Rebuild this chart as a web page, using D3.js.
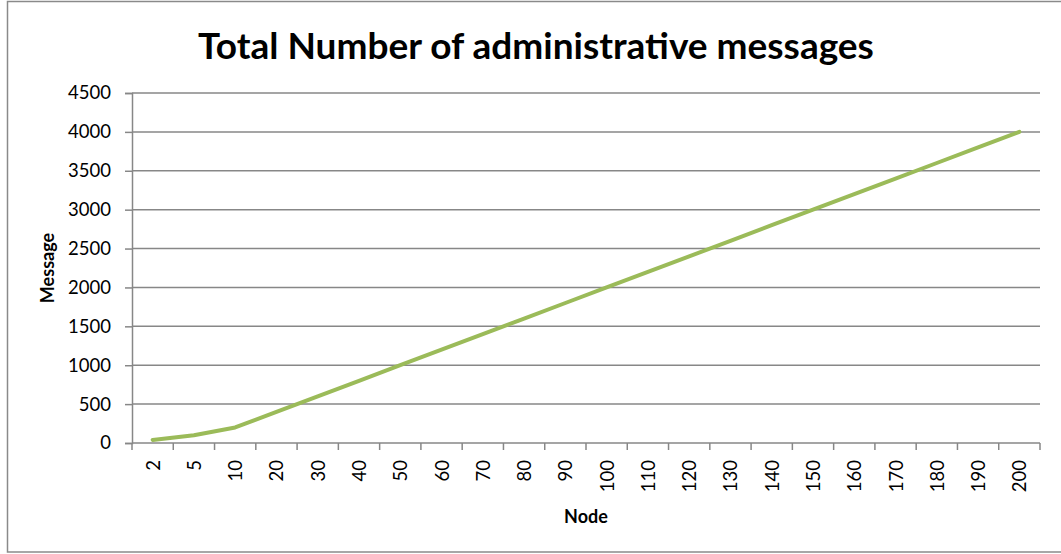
<html>
<script src="https://d3js.org/d3.v7.min.js"></script>
<style>
  body { margin: 0; background: #fff; }
  text { font-family: Lato, "Open Sans", sans-serif; }
</style>
<body>
<script>
  // chart data
  let nodes = ["2","5","10","20","30","40","50","60","70","80","90","100",
               "110","120","130","140","150","160","170","180","190","200"];
  let messages = [40,100,200,400,600,800,1000,1200,1400,1600,1800,2000,
                  2200,2400,2600,2800,3000,3200,3400,3600,3800,4000];
  let yTicks = [0,500,1000,1500,2000,2500,3000,3500,4000,4500];

  let width = 1061, height = 554;
  let margin = {top: 93, right: 21, bottom: 111, left: 132};
  let plotW = width - margin.left - margin.right;
  let plotH = height - margin.top - margin.bottom;

  let svg = d3.select("body").append("svg")
      .attr("width", width)
      .attr("height", height);

  // outer chart frame
  svg.append("rect")
      .attr("x", 7.5).attr("y", 1.5)
      .attr("width", 1060).attr("height", 550.5)
      .attr("fill", "none").attr("stroke", "#8a8a8a").attr("stroke-width", 1.5);

  let g = svg.append("g").attr("transform", `translate(${margin.left},${margin.top})`);

  let x = d3.scaleBand().domain(nodes).range([0, plotW]);
  let y = d3.scaleLinear().domain([0, 4500]).range([plotH, 0]);

  // horizontal gridlines + y axis
  let yAxis = d3.axisLeft(y).tickValues(yTicks).tickFormat(d3.format("d"))
      .tickSize(7).tickPadding(14);
  let yG = g.append("g").call(yAxis);
  yG.select(".domain").attr("stroke", "#878787").attr("stroke-width", 1.5);
  yG.selectAll(".tick line").attr("stroke", "#878787").attr("stroke-width", 1.5);
  yG.selectAll(".tick text").attr("font-size", 18.5).attr("fill", "#000")
      .attr("font-family", "Lato, sans-serif");

  g.append("g").selectAll("line")
      .data(yTicks.filter(d => d > 0))
      .join("line")
      .attr("x1", 0).attr("x2", plotW)
      .attr("y1", d => y(d)).attr("y2", d => y(d))
      .attr("stroke", "#878787").attr("stroke-width", 1.5);

  // x axis, ticks on band edges like Excel
  let xG = g.append("g").attr("transform", `translate(0,${plotH})`);
  xG.append("line").attr("x1", 0).attr("x2", plotW)
      .attr("stroke", "#878787").attr("stroke-width", 1.5);
  let edges = nodes.map(d => x(d)).concat([plotW]);
  xG.selectAll(".edge").data(edges).join("line")
      .attr("class", "edge")
      .attr("x1", d => d).attr("x2", d => d)
      .attr("y1", 0).attr("y2", 7)
      .attr("stroke", "#878787").attr("stroke-width", 1.5);
  xG.selectAll(".lbl").data(nodes).join("text")
      .attr("class", "lbl")
      .attr("transform", d => `translate(${x(d) + x.bandwidth() / 2 + 7},${17}) rotate(-90)`)
      .attr("text-anchor", "end")
      .attr("font-size", 18.5)
      .text(d => d);

  // the series line
  let line = d3.line()
      .x((d, i) => x(nodes[i]) + x.bandwidth() / 2)
      .y(d => y(d));
  g.append("path")
      .datum(messages)
      .attr("d", line)
      .attr("fill", "none")
      .attr("stroke", "#9bbb59")
      .attr("stroke-width", 4)
      .attr("stroke-linejoin", "round")
      .attr("stroke-linecap", "round");

  // titles
  svg.append("text")
      .attr("x", 536).attr("y", 59)
      .attr("text-anchor", "middle")
      .attr("font-size", 37).attr("font-weight", "bold")
      .text("Total Number of administrative messages");

  svg.append("text")
      .attr("x", margin.left + plotW / 2).attr("y", 523)
      .attr("text-anchor", "middle")
      .attr("font-size", 18).attr("font-weight", "bold")
      .text("Node");

  svg.append("text")
      .attr("transform", `translate(54,${margin.top + plotH / 2}) rotate(-90)`)
      .attr("text-anchor", "middle")
      .attr("font-size", 18).attr("font-weight", "bold")
      .text("Message");
</script>
</body>
</html>
